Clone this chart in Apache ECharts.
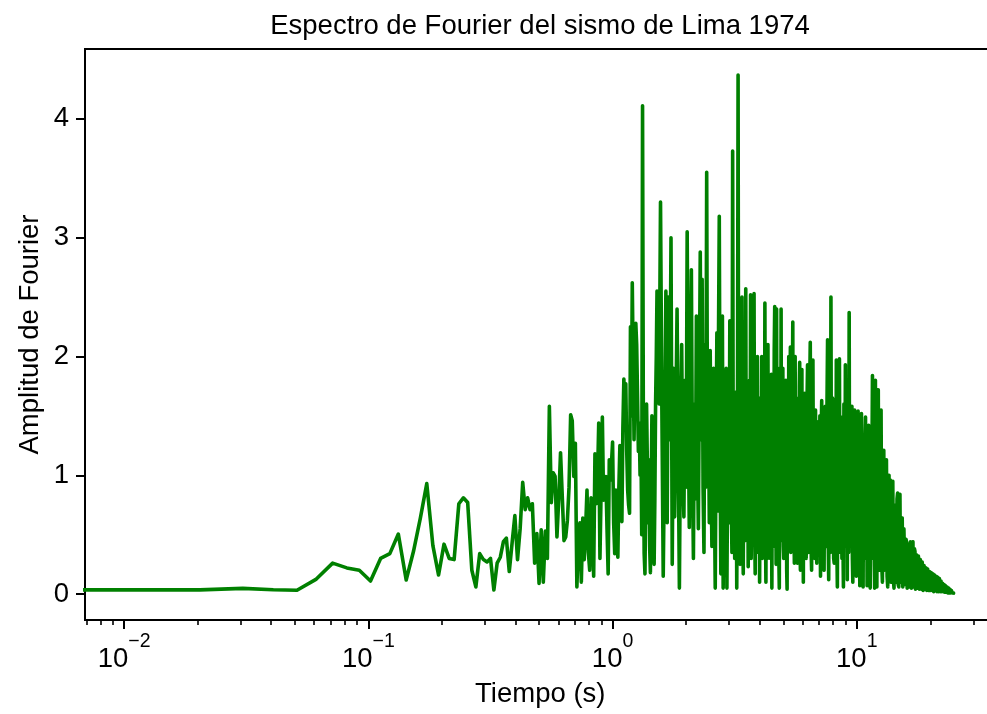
<!DOCTYPE html>
<html>
<head>
<meta charset="utf-8">
<script src="https://cdn.jsdelivr.net/npm/echarts@6/dist/echarts.min.js"></script>
<style>
  html, body { margin: 0; padding: 0; background: #ffffff; }
  #chart { width: 987px; height: 714px; }
</style>
</head>
<body>
<div id="chart"></div>
<script>
// Fourier amplitude spectrum of the Lima 1974 record (98 s at dt = 0.02 s, Nyquist 25 Hz)
const DF = 1 / 98;          // frequency resolution, Hz per bin
const ampDC = 0.035;        // bin 0

// bins 1..149, every bin
const ampBand1 = [
  0.035, 0.035, 0.048, 0.036, 0.032, 0.126, 0.26, 0.22, 0.20, 0.11,
  0.30, 0.34, 0.505, 0.118, 0.36, 0.64, 0.93, 0.41, 0.16, 0.42,
  0.30, 0.29, 0.76, 0.81, 0.77, 0.20, 0.06, 0.34, 0.29, 0.27,
  0.30, 0.034, 0.26, 0.31, 0.44, 0.47, 0.19, 0.43, 0.66, 0.29,
  0.55, 0.94, 0.71, 0.81, 0.71, 0.76, 0.26, 0.51, 0.09, 0.54,
  0.10, 0.53, 0.30, 1.58, 0.77, 1.02, 0.99, 0.48, 0.80, 1.19,
  1.18, 0.45, 0.48, 0.62, 0.90, 1.51, 1.46, 0.99, 1.27, 0.06,
  0.45, 0.60, 0.10, 0.64, 0.29, 0.55, 0.875, 0.35, 0.20, 0.81,
  0.55, 0.15, 1.18, 0.76, 0.95, 1.44, 0.30, 0.90, 1.49, 0.79,
  0.85, 0.99, 0.55, 0.17, 1.13, 0.96, 1.10, 1.28, 0.60, 0.34,
  0.875, 0.60, 0.31, 0.90, 1.25, 0.80, 0.61, 1.40, 1.81, 1.60,
  1.77, 1.20, 0.875, 0.75, 0.68, 2.25, 1.50, 2.62, 1.95, 1.30,
  1.85, 2.28, 2.10, 1.66, 1.20, 1.44, 1.00, 1.30, 0.50, 4.11,
  1.40, 0.34, 0.17, 0.90, 1.60, 1.10, 0.60, 1.13, 0.40, 0.18,
  0.90, 1.50, 1.25, 0.70, 0.25, 0.80, 1.60, 2.00, 2.55
];
// bins 150..298, every 2nd bin
const ampBand2 = [
  2.10, 1.60, 3.30, 1.55, 0.15, 1.20, 2.55, 0.60, 2.50, 1.30,
  3.00, 0.25, 1.90, 0.65, 1.50, 2.40, 1.20, 0.05, 1.40, 2.10,
  1.00, 0.65, 1.80, 0.90, 3.05, 1.50, 0.56, 1.80, 2.73, 1.10,
  0.30, 1.60, 0.80, 2.34, 1.20, 0.55, 1.70, 2.88, 1.30, 2.65,
  0.90, 0.35, 2.10, 0.90, 3.55, 1.00, 1.55, 0.60, 2.05, 1.10,
  0.40, 1.70, 1.90, 0.80, 0.05, 1.30, 2.20, 0.70, 2.15, 3.18,
  1.20, 0.17, 1.60, 2.34, 0.05, 0.90, 1.30, 0.50, 1.90, 0.05,
  1.10, 1.50, 0.60, 2.30, 1.40
];
// bins 300..598, every 2nd bin
const ampBand3 = [
  0.80, 0.35, 3.73, 0.60, 1.40, 0.30, 0.90, 1.70, 0.05, 1.20,
  4.37, 0.40, 1.60, 0.25, 0.90, 1.90, 2.50, 0.70, 0.17, 1.60,
  1.30, 0.45, 2.57, 0.50, 1.10, 1.75, 0.23, 1.20, 1.80, 0.35,
  2.52, 0.30, 0.80, 1.50, 2.00, 0.50, 2.53, 0.60, 0.17, 1.80,
  1.40, 0.45, 2.00, 0.35, 0.70, 1.65, 0.10, 1.30, 1.60, 0.55,
  2.00, 0.30, 0.90, 1.95, 1.50, 0.40, 2.45, 0.65, 0.10, 1.85,
  1.20, 0.30, 2.10, 0.50, 0.60, 1.60, 1.80, 0.30, 1.00, 1.85,
  0.05, 1.35, 1.50, 0.40, 0.70, 2.05, 2.42, 0.55, 1.30, 0.25,
  2.40, 0.60, 0.50, 1.65, 1.70, 0.30, 0.05, 1.90, 1.20, 0.45,
  2.40, 0.50, 0.90, 1.75, 1.90, 0.40, 0.30, 1.45, 1.70, 0.35,
  1.10, 1.80, 1.50, 0.20, 0.04, 1.60, 1.30, 0.45, 2.00, 0.55,
  0.60, 1.70, 2.08, 0.35, 1.00, 1.55, 0.43, 1.70, 2.29, 0.40,
  1.20, 0.60, 0.26, 1.80, 2.00, 0.45, 0.80, 1.65, 1.40, 0.30,
  0.26, 1.50, 1.60, 0.40, 0.90, 1.75, 1.95, 0.35, 0.20, 1.40,
  1.30, 0.25, 1.89, 0.50, 0.70, 1.55, 0.10, 1.35, 1.50, 0.30
];
// bins 600..1196, every 4th bin
const ampBand4 = [
  1.69, 0.40, 0.30, 1.50, 1.93, 0.35, 0.90, 1.70, 2.12, 0.45,
  0.20, 1.45, 1.97, 0.50, 1.10, 0.30, 1.55, 0.55, 0.26, 1.35,
  1.45, 0.35, 0.80, 1.50, 0.15, 1.30, 1.63, 0.45, 1.00, 0.25,
  0.20, 1.40, 1.58, 0.40, 0.70, 1.60, 2.14, 0.50, 0.12, 1.45,
  1.30, 0.35, 2.50, 0.55, 0.60, 1.65, 1.60, 0.30, 0.26, 1.50,
  1.20, 0.45, 1.97, 0.40, 0.06, 1.55, 1.40, 0.35, 1.98, 0.50,
  0.50, 1.45, 0.90, 0.30, 1.49, 0.45, 0.06, 1.60, 1.20, 0.40,
  1.93, 0.55, 0.70, 1.35, 0.12, 1.50, 1.30, 0.35, 2.37, 0.45,
  0.90, 1.40, 0.40, 1.20, 1.58, 0.30, 0.10, 1.45, 1.10, 0.50,
  1.55, 0.35, 0.60, 1.40, 0.15, 1.25, 1.30, 0.40, 1.54, 0.30,
  0.80, 1.45, 0.07, 1.20, 1.10, 0.45, 1.52, 0.35, 0.50, 1.30,
  0.06, 1.15, 1.25, 0.40, 0.90, 1.35, 1.49, 0.30, 0.30, 1.25,
  0.07, 1.10, 1.00, 0.40, 1.42, 0.30, 0.60, 1.20, 0.05, 1.10,
  1.20, 0.35, 0.80, 1.30, 1.84, 0.40, 0.30, 1.20, 1.30, 0.25,
  0.05, 1.15, 1.80, 0.35, 0.90, 1.25, 0.06, 1.05, 1.72, 0.30
];
// bins 1200..2448, every 8th bin
const ampBand5 = [
  1.72, 0.30, 0.20, 1.30, 1.55, 0.25, 0.10, 1.10, 1.21, 0.20,
  0.50, 1.05, 1.13, 0.15, 0.06, 0.90, 1.00, 0.20, 0.96, 0.10,
  0.30, 0.92, 0.95, 0.12, 0.05, 0.75, 0.68, 0.10, 0.40, 0.80,
  0.85, 0.08, 0.06, 0.78, 0.84, 0.10, 0.30, 0.62, 0.64, 0.06,
  0.05, 0.55, 0.54, 0.08, 0.20, 0.46, 0.43, 0.05, 0.04, 0.40,
  0.42, 0.06, 0.20, 0.44, 0.45, 0.05, 0.04, 0.42, 0.44, 0.06,
  0.15, 0.38, 0.36, 0.04, 0.04, 0.33, 0.34, 0.05, 0.12, 0.32,
  0.33, 0.04, 0.03, 0.29, 0.30, 0.04, 0.10, 0.27, 0.26, 0.03,
  0.03, 0.24, 0.24, 0.04, 0.08, 0.22, 0.22, 0.03, 0.03, 0.21,
  0.20, 0.03, 0.06, 0.19, 0.19, 0.03, 0.03, 0.18, 0.19, 0.03,
  0.05, 0.17, 0.17, 0.02, 0.03, 0.16, 0.16, 0.03, 0.05, 0.15,
  0.15, 0.02, 0.02, 0.14, 0.14, 0.02, 0.04, 0.13, 0.12, 0.02,
  0.02, 0.11, 0.10, 0.02, 0.03, 0.09, 0.09, 0.02, 0.02, 0.08,
  0.08, 0.015, 0.02, 0.07, 0.07, 0.015, 0.02, 0.06, 0.06, 0.01,
  0.015, 0.05, 0.05, 0.01, 0.015, 0.04, 0.04, 0.01, 0.01, 0.03,
  0.025, 0.01, 0.01, 0.02, 0.015, 0.008, 0.005
];

const bands = [
  { first: 1, stride: 1, amp: ampBand1 },
  { first: 150, stride: 2, amp: ampBand2 },
  { first: 300, stride: 2, amp: ampBand3 },
  { first: 600, stride: 4, amp: ampBand4 },
  { first: 1200, stride: 8, amp: ampBand5 }
];

const xTickValues = [0.01, 0.1, 1, 10];
const yTickValues = [0, 1, 2, 3, 4];

// Axis limits: 5 % padding around the data, the x padding taken in log space
const X_MIN = 0.006914;
const X_MAX = 36.98;
const Y_MIN = -0.2185;
const Y_MAX = 4.5885;

// 0 Hz cannot sit on a log axis: pin it far below the left limit so the
// trace simply runs off the plot edge (the grid clips it)
const ZERO_FREQ_ON_LOG = 1e-4;

const points = [[ZERO_FREQ_ON_LOG, ampDC]];
bands.forEach(b => {
  b.amp.forEach((a, i) => points.push([(b.first + i * b.stride) * DF, a]));
});

// minor ticks 2..9 x 10^n inside the axis range
const minorTicks = [];
for (let e = -3; e <= 1; e++) {
  for (let m = 2; m <= 9; m++) {
    const v = m * Math.pow(10, e);
    if (v >= X_MIN && v <= X_MAX) minorTicks.push(v);
  }
}

const FONT = "'Liberation Sans', Arial, Helvetica, sans-serif";
const BASE_SIZE = 27.5;
const SUP_SIZE = 19.5;
const expText = v => {
  const e = Math.round(Math.log10(v));
  return e < 0 ? '\u2212' + (-e) : String(e);
};
const INK = '#000000';
const GHOST = 'rgba(0,0,0,0)';

// "10" and its exponent are drawn by two label rows sharing one centred
// layout; each row keeps the other part as invisible spacing
const baseRich = {
  b: { fontFamily: FONT, fontSize: BASE_SIZE, color: INK, lineHeight: 28 },
  h: { fontFamily: FONT, fontSize: SUP_SIZE, color: GHOST, lineHeight: 28 }
};
const supRich = {
  h: { fontFamily: FONT, fontSize: BASE_SIZE, color: GHOST, lineHeight: 28 },
  s: { fontFamily: FONT, fontSize: SUP_SIZE, color: INK, lineHeight: 28 }
};

const chart = echarts.init(document.getElementById('chart'), null, { renderer: 'canvas' });

chart.setOption({
  animation: false,
  backgroundColor: '#ffffff',
  graphic: [{
    type: 'text',
    x: 540,
    y: 26,
    style: {
      text: 'Espectro de Fourier del sismo de Lima 1974',
      fill: INK,
      font: BASE_SIZE + 'px ' + FONT,
      align: 'center',
      verticalAlign: 'middle'
    }
  }],
  grid: {
    left: 85,
    right: -8.5,
    top: 49,
    bottom: 94,
    outerBoundsMode: 'none',
    show: true,
    borderColor: INK,
    borderWidth: 2,
    backgroundColor: 'transparent'
  },
  xAxis: [{
    type: 'log',
    logBase: 10,
    min: X_MIN,
    max: X_MAX,
    name: 'Tiempo (s)',
    nameLocation: 'middle',
    nameGap: 60,
    nameMoveOverlap: false,
    nameTextStyle: { fontFamily: FONT, fontSize: BASE_SIZE, color: INK },
    axisLine: { show: true, onZero: false, lineStyle: { color: INK, width: 2 } },
    axisTick: { show: true, inside: false, length: 9, customValues: xTickValues,
      lineStyle: { color: INK, width: 2 } },
    axisLabel: {
      show: true,
      customValues: xTickValues,
      margin: 25,
      formatter: v => '{b|10}{h|' + expText(v) + '}',
      rich: baseRich
    },
    splitLine: { show: false },
    minorTick: { show: false },
    minorSplitLine: { show: false }
  }, {
    type: 'log',
    logBase: 10,
    min: X_MIN,
    max: X_MAX,
    position: 'bottom',
    axisLine: { show: false, onZero: false },
    axisTick: { show: true, inside: false, length: 5, customValues: minorTicks,
      lineStyle: { color: INK, width: 1.6 } },
    axisLabel: {
      show: true,
      customValues: xTickValues,
      margin: 8,
      formatter: v => '{h|10}{s|' + expText(v) + '}',
      rich: supRich
    },
    splitLine: { show: false }
  }],
  yAxis: {
    type: 'value',
    min: Y_MIN,
    max: Y_MAX,
    name: 'Amplitud de Fourier',
    nameLocation: 'middle',
    nameGap: 41,
    nameMoveOverlap: false,
    nameTextStyle: { fontFamily: FONT, fontSize: BASE_SIZE, color: INK },
    axisLine: { show: true, onZero: false, lineStyle: { color: INK, width: 2 } },
    axisTick: { show: true, inside: false, length: 9, customValues: yTickValues,
      lineStyle: { color: INK, width: 2 } },
    axisLabel: { show: true, customValues: yTickValues, margin: 16,
      fontFamily: FONT, fontSize: BASE_SIZE, color: INK },
    splitLine: { show: false }
  },
  series: [{
    type: 'line',
    xAxisIndex: 0,
    yAxisIndex: 0,
    data: points,
    symbol: 'none',
    showSymbol: false,
    clip: true,
    silent: true,
    lineStyle: { color: '#008000', width: 3.6, join: 'round', cap: 'round' }
  }]
});
</script>
</body>
</html>
